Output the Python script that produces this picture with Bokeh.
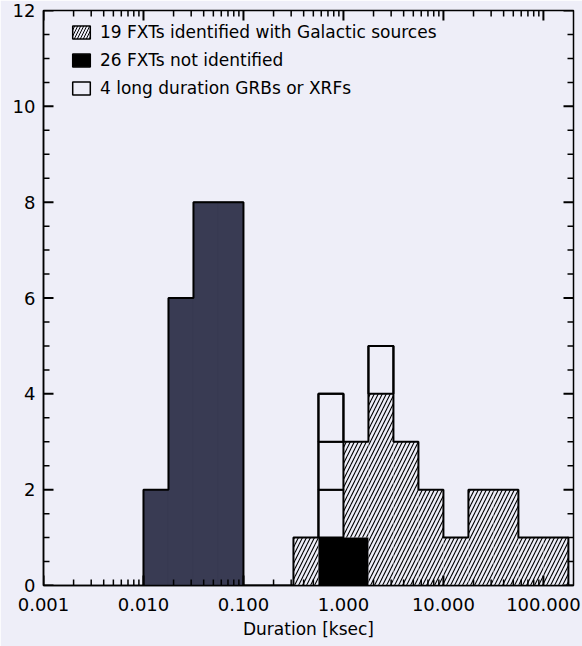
import numpy as np
from bokeh.plotting import figure
from bokeh.models import (Range1d, FixedTicker, PrintfTickFormatter, Legend, LegendItem)
from bokeh.embed import file_html
from bokeh.resources import INLINE

# ---- data (histogram in log10 bins of 0.25 dex) ----
log_edges = [-2.0, -1.75, -1.5, -1.25, -1.0, -0.75, -0.5, -0.25, 0.0, 0.25,
             0.5, 0.75, 1.0, 1.25, 1.5, 1.75, 2.0, 2.25]
not_identified = [2, 6, 8, 8, 0, 0, 0, 1, 1, 0, 0, 0, 0, 0, 0, 0, 0]
galactic = [0, 0, 0, 0, 0, 0, 1, 0, 2, 4, 3, 2, 1, 2, 2, 1, 1]
grb_xrf = [0, 0, 0, 0, 0, 0, 0, 3, 0, 1, 0, 0, 0, 0, 0, 0, 0]
x_ticks = [0.001, 0.01, 0.1, 1.0, 10.0, 100.0]
y_ticks = [0, 2, 4, 6, 8, 10, 12]
legend_labels = ["19 FXTs identified with Galactic sources",
                 "26 FXTs not identified",
                 "4 long duration GRBs or XRFs"]

BG = "#eeeef8"
NAVY = "#393b53"
FONT = "DejaVu Sans"
XMIN, XMAX, YMIN, YMAX = 0.001, 200.0, 0.0, 12.0
W, H = 582, 646
BL, BR, BT, BB = 43, 9, 10, 61
FW, FH = W - BL - BR, H - BT - BB

edges = 10.0 ** np.array(log_edges)
left, right = edges[:-1], edges[1:]
ni = np.array(not_identified, float)
ga = np.array(galactic, float)
gr = np.array(grb_xrf, float)

p = figure(width=W, height=H, x_axis_type="log",
           x_range=Range1d(XMIN, XMAX), y_range=Range1d(YMIN, YMAX),
           output_backend="svg", toolbar_location=None,
           background_fill_color=BG, border_fill_color=BG,
           min_border_left=BL, min_border_right=BR, min_border_top=BT, min_border_bottom=BB)
p.grid.visible = False
p.outline_line_color = "black"
p.outline_line_width = 1.5

bottom_ax = p.below[0]
left_ax = p.left[0]

# not identified
ni_colors = [NAVY if r <= 0.2 else "black" for r in right]
p.quad(left=left, right=right, bottom=0, top=ni, fill_color=ni_colors,
       line_color=ni_colors, line_width=1)
# galactic (hatched)
p.quad(left=left, right=right, bottom=ni, top=ni + ga, fill_color=BG, line_alpha=0,
       hatch_pattern="/", hatch_color="black", hatch_scale=8, hatch_weight=1.1)
# GRB/XRF unit boxes
bl, br, bb, bt = [], [], [], []
for i in range(len(gr)):
    base = ni[i] + ga[i]
    for k in range(int(gr[i])):
        bl.append(left[i]); br.append(right[i]); bb.append(base + k); bt.append(base + k + 1)
p.quad(left=bl, right=br, bottom=bb, top=bt, fill_color=BG, line_color="black", line_width=2)

# envelope outline
tot = ni + ga + gr
xs, ys = [left[0]], [0.0]
for i in range(len(tot)):
    xs += [left[i], right[i]]
    ys += [tot[i], tot[i]]
xs.append(right[-1]); ys.append(0.0)
p.line(xs, ys, line_color="black", line_width=2)

# inward ticks on all four sides, lengths converted from pixels to data units
dec = np.log10(XMAX / XMIN)
def xpx(n):   # multiplicative factor for n pixels along log x
    return 10 ** (dec * n / FW)
def ypx(n):
    return (YMAX - YMIN) * n / FH

x_minor = [t * m for t in x_ticks for m in range(2, 10) if XMIN < t * m < XMAX]
y_minor = [v + 0.5 * k for v in y_ticks[:-1] for k in (1, 2, 3)]
for xv, ln, lw in ((x_ticks, 10, 2), (x_minor, 6, 1.5)):
    n = len(xv)
    p.segment(x0=xv, x1=xv, y0=[YMIN] * n, y1=[YMIN + ypx(ln)] * n, line_color="black", line_width=lw)
    p.segment(x0=xv, x1=xv, y0=[YMAX] * n, y1=[YMAX - ypx(ln)] * n, line_color="black", line_width=lw)
for yv, ln, lw in ((y_ticks, 10, 2), (y_minor, 6, 1.5)):
    n = len(yv)
    p.segment(x0=[XMIN] * n, x1=[XMIN * xpx(ln)] * n, y0=yv, y1=yv, line_color="black", line_width=lw)
    p.segment(x0=[XMAX] * n, x1=[XMAX / xpx(ln)] * n, y0=yv, y1=yv, line_color="black", line_width=lw)

# axes styling (labels only)
bottom_ax.ticker = FixedTicker(ticks=x_ticks)
bottom_ax.formatter = PrintfTickFormatter(format="%.3f")
left_ax.ticker = FixedTicker(ticks=y_ticks)
for ax in [bottom_ax, left_ax]:
    ax.major_tick_in = 0
    ax.major_tick_out = 0
    ax.minor_tick_in = 0
    ax.minor_tick_out = 0
    ax.axis_line_width = 1.5
    ax.axis_line_color = "black"
    ax.major_label_text_color = "black"
    ax.major_label_text_font = FONT
    ax.major_label_text_font_size = "18px"
bottom_ax.major_label_standoff = 12
left_ax.major_label_standoff = 8
bottom_ax.axis_label = "Duration [ksec]"
bottom_ax.axis_label_text_font = FONT
bottom_ax.axis_label_text_font_size = "17px"
bottom_ax.axis_label_text_font_style = "normal"
bottom_ax.axis_label_text_color = "black"
bottom_ax.axis_label_standoff = 5

# legend proxies (off-range)
r1 = p.quad(left=[1e-6], right=[2e-6], bottom=[0], top=[1], fill_color=BG, line_color="black",
            line_width=1.5, hatch_pattern="/", hatch_color="black", hatch_scale=6, hatch_weight=1)
r2 = p.quad(left=[1e-6], right=[2e-6], bottom=[0], top=[1], fill_color="black",
            line_color="black", line_width=1.5)
r3 = p.quad(left=[1e-6], right=[2e-6], bottom=[0], top=[1], fill_color=BG,
            line_color="black", line_width=1.5)
legend = Legend(items=[LegendItem(label=legend_labels[0], renderers=[r1]),
                       LegendItem(label=legend_labels[1], renderers=[r2]),
                       LegendItem(label=legend_labels[2], renderers=[r3])],
                location=(27, 487), background_fill_alpha=0, border_line_alpha=0,
                padding=0, margin=0, spacing=8, glyph_width=22, glyph_height=16,
                label_height=20, label_standoff=8, label_text_font=FONT,
                label_text_font_size="17px", label_text_color="black")
p.add_layout(legend, "center")

open("out.html", "w").write(file_html(p, INLINE))
